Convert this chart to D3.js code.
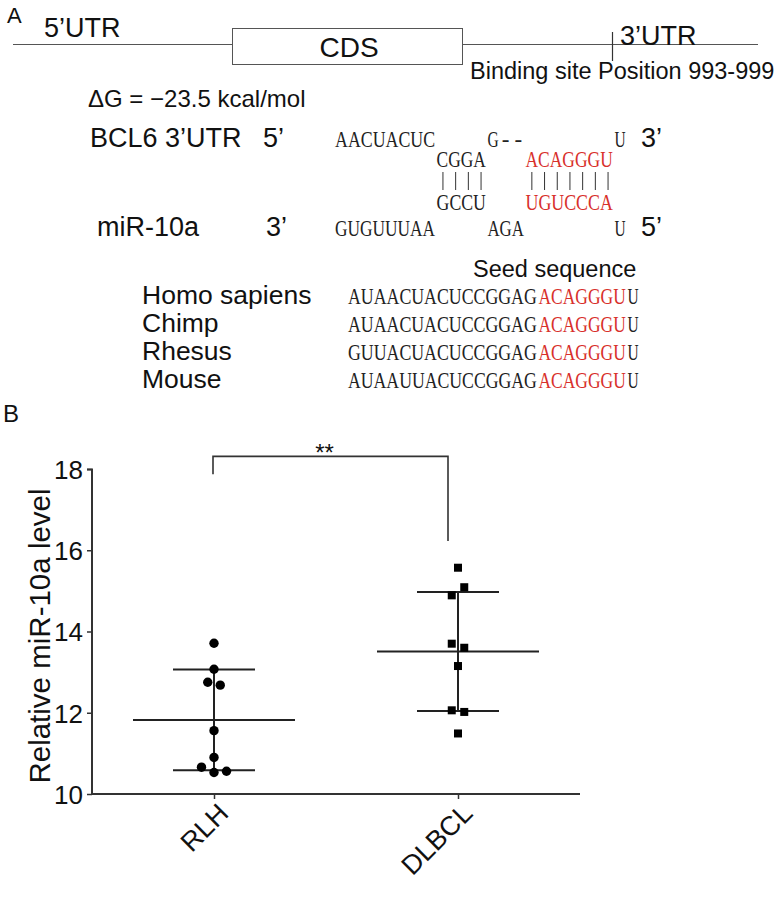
<!DOCTYPE html>
<html>
<head>
<meta charset="utf-8">
<script src="https://cdn.jsdelivr.net/npm/d3@7"></script>
<style>
  html, body { margin: 0; padding: 0; background: #fff; }
  svg { display: block; }
  text { font-family: "Liberation Sans", Arial, sans-serif; fill: #111; }
  .seq { font-family: "Liberation Serif", "Times New Roman", serif; }
</style>
</head>
<body>
<svg id="fig" width="779" height="897"></svg>
<script>
// ---------------- DATA ----------------
const categories = ["RLH", "DLBCL"];
const rlhValues = [13.71, 13.07, 12.75, 12.68, 11.56, 10.90, 10.66, 10.53, 10.56];
const dlbclValues = [15.57, 14.89, 15.09, 13.70, 13.60, 13.15, 12.06, 12.02, 11.49];
const yTicks = [10, 12, 14, 16, 18];
const yLabel = "Relative miR-10a level";
const significance = "**";

const species = ["Homo sapiens", "Chimp", "Rhesus", "Mouse"];
const speciesPrefix = ["AUAACUACUCCGGAG", "AUAACUACUCCGGAG", "GUUACUACUCCGGAG", "AUAAUUACUCCGGAG"];
const seedSeq = "ACAGGGU";
const seedTail = "U";

// binding diagram: [text, column]
const utrRow = [["AACUACUC", 0], ["G", 12], ["-", 13], ["-", 14], ["U", 22]];
const utrPaired = [["CGGA", 8, false], ["ACAGGGU", 15, true]];
const mirPaired = [["GCCU", 8, false], ["UGUCCCA", 15, true]];
const mirRow = [["GUGUUUAA", 0], ["AGA", 12], ["U", 22]];
const pairCols = [8, 9, 10, 11, 15, 16, 17, 18, 19, 20, 21];

// ---------------- DRAW ----------------
const svg = d3.select("#fig");
const RED = "#d8302b";
const INK = "#222";

// ---- Panel A: gene schematic ----
svg.append("text").attr("x", 7).attr("y", 23).attr("font-size", 22).text("A");
svg.append("line").attr("x1", 13).attr("x2", 758).attr("y1", 44.5).attr("y2", 44.5)
  .attr("stroke", "#555").attr("stroke-width", 1);
svg.append("rect").attr("x", 232.5).attr("y", 28.5).attr("width", 230).attr("height", 36)
  .attr("fill", "#fff").attr("stroke", "#555").attr("stroke-width", 1);
svg.append("text").attr("x", 349).attr("y", 57).attr("font-size", 28).attr("text-anchor", "middle").text("CDS");
svg.append("text").attr("x", 44).attr("y", 37).attr("font-size", 27).text("5\u2019UTR");
svg.append("text").attr("x", 620).attr("y", 45).attr("font-size", 27).text("3\u2019UTR");
svg.append("line").attr("x1", 612.5).attr("x2", 612.5).attr("y1", 32).attr("y2", 61)
  .attr("stroke", "#333").attr("stroke-width", 1.2);
svg.append("text").attr("x", 470).attr("y", 79).attr("font-size", 23.5).text("Binding site Position 993-999");
svg.append("text").attr("x", 88).attr("y", 107).attr("font-size", 24).text("\u0394G = \u221223.5 kcal/mol");

// ---- sequence helper: condensed serif text fitted to a column grid ----
const pitch = 12.7;
const col0 = 335;
const colX = c => col0 + c * pitch;
function seqText(x, y, s, color, size) {
  const target = s.length * pitch - 1.5;
  const g = svg.append("g");
  const t = g.append("text").attr("class", "seq")
    .attr("font-size", size || 23)
    .style("fill", color || "#222")
    .text(s);
  const w = t.node().getComputedTextLength();
  if (w > target) {
    g.attr("transform", `translate(${x},${y}) scale(${target / w},1)`);
  } else {
    g.attr("transform", `translate(${x + (target - w) / 2},${y})`);
  }
}
const rowY = [147, 167, 210, 236];
svg.append("text").attr("x", 90).attr("y", rowY[0]).attr("font-size", 27).text("BCL6 3\u2019UTR");
svg.append("text").attr("x", 263).attr("y", rowY[0]).attr("font-size", 27).text("5\u2019");
svg.append("text").attr("x", 641).attr("y", rowY[0]).attr("font-size", 27).text("3\u2019");
utrRow.forEach(([s, c]) => seqText(colX(c), rowY[0], s));
utrPaired.forEach(([s, c, red]) => seqText(colX(c), rowY[1], s, red ? RED : null));
svg.selectAll("line.pair").data(pairCols).enter().append("line").attr("class", "pair")
  .attr("x1", c => colX(c) + pitch / 2).attr("x2", c => colX(c) + pitch / 2)
  .attr("y1", 172).attr("y2", 190).attr("stroke", "#333").attr("stroke-width", 1);
mirPaired.forEach(([s, c, red]) => seqText(colX(c), rowY[2], s, red ? RED : null));
svg.append("text").attr("x", 97).attr("y", rowY[3]).attr("font-size", 27).text("miR-10a");
svg.append("text").attr("x", 266).attr("y", rowY[3]).attr("font-size", 27).text("3\u2019");
svg.append("text").attr("x", 641).attr("y", rowY[3]).attr("font-size", 27).text("5\u2019");
mirRow.forEach(([s, c]) => seqText(colX(c), rowY[3], s));

// ---- conservation ----
svg.append("text").attr("x", 473).attr("y", 277).attr("font-size", 23.5).text("Seed sequence");
const consX = 348;
species.forEach((sp, i) => {
  const y = 304 + i * 28;
  svg.append("text").attr("x", 142).attr("y", y).attr("font-size", 26.5).text(sp);
  const p = speciesPrefix[i];
  seqText(consX, y, p, null, 23);
  seqText(consX + p.length * pitch, y, seedSeq, RED, 23);
  seqText(consX + (p.length + seedSeq.length) * pitch, y, seedTail, null, 23);
});

// ---- Panel B: scatter ----
svg.append("text").attr("x", 3).attr("y", 422).attr("font-size", 24).text("B");

const x = d3.scalePoint().domain(categories).range([92, 580]).padding(0.5);
const y = d3.scaleLinear().domain([10, 18]).range([794, 469]);

const gY = svg.append("g").attr("transform", "translate(92,0)")
  .call(d3.axisLeft(y).tickValues(yTicks).tickSize(5).tickPadding(4).tickFormat(d3.format("d")));
const gX = svg.append("g").attr("transform", "translate(0,794)")
  .call(d3.axisBottom(x).tickSize(5).tickFormat(""));
[gY, gX].forEach(g => {
  g.select(".domain").attr("stroke", "#333").attr("stroke-width", 2);
  g.selectAll(".tick line").attr("stroke", "#333").attr("stroke-width", 1.5);
});
gY.select(".domain").attr("d", "M-5,469.5H0V794");
gX.select(".domain").attr("d", "M92,0H580");
gY.selectAll(".tick text").attr("font-size", 26).attr("font-family", "Liberation Sans, Arial, sans-serif")
  .attr("fill", "#111").attr("dy", "0.36em");

// rotated category labels
svg.selectAll("text.cat").data(categories).enter().append("text").attr("class", "cat")
  .attr("transform", d => `translate(${x(d) + 16},815) rotate(-45)`)
  .attr("text-anchor", "end").attr("font-size", 27).text(d => d);

// y label
svg.append("text").attr("transform", "translate(50,636) rotate(-90)")
  .attr("text-anchor", "middle").attr("font-size", 29.5).text(yLabel);

// beeswarm-style row layout
function layout(vals, thr) {
  const rows = [];
  vals.forEach((v, i) => {
    const last = rows[rows.length - 1];
    if (last && Math.abs(v - vals[last[0]]) < thr) last.push(i); else rows.push([i]);
  });
  const off = new Array(vals.length).fill(0);
  rows.forEach(r => r.forEach((idx, k) => { off[idx] = (k - (r.length - 1) / 2); }));
  return vals.map((v, i) => ({ v, o: off[i] }));
}
const spread = 12.5;
const groups = [
  { cat: "RLH", vals: rlhValues, shape: "circle" },
  { cat: "DLBCL", vals: dlbclValues, shape: "square" }
];
groups.forEach(gp => {
  const cx = x(gp.cat);
  const m = d3.mean(gp.vals), sd = d3.deviation(gp.vals);
  const g = svg.append("g");
  g.append("line").attr("x1", cx - 81).attr("x2", cx + 81).attr("y1", y(m)).attr("y2", y(m))
    .attr("stroke", INK).attr("stroke-width", 2);
  [m - sd, m + sd].forEach(v => g.append("line").attr("x1", cx - 41).attr("x2", cx + 41)
    .attr("y1", y(v)).attr("y2", y(v)).attr("stroke", INK).attr("stroke-width", 2));
  g.append("line").attr("x1", cx).attr("x2", cx).attr("y1", y(m + sd)).attr("y2", y(m - sd))
    .attr("stroke", INK).attr("stroke-width", 2);
  const pts = layout(gp.vals, 0.22);
  if (gp.shape === "circle") {
    g.selectAll("circle").data(pts).enter().append("circle")
      .attr("cx", d => cx + d.o * spread).attr("cy", d => y(d.v)).attr("r", 4.7).attr("fill", "#000");
  } else {
    g.selectAll("rect").data(pts).enter().append("rect")
      .attr("x", d => cx + d.o * spread - 4).attr("y", d => y(d.v) - 4)
      .attr("width", 8).attr("height", 8).attr("fill", "#000");
  }
});

// significance bracket
const bx1 = x("RLH") - 1, bx2 = x("DLBCL") - 10;
const bTop = y(18.31);
svg.append("path")
  .attr("d", `M${bx1},${y(17.87)}V${bTop}H${bx2}V${y(16.23)}`)
  .attr("fill", "none").attr("stroke", "#333").attr("stroke-width", 1.6);
svg.append("text").attr("x", (bx1 + bx2) / 2 - 6).attr("y", 461).attr("font-size", 24)
  .attr("text-anchor", "middle").text(significance);
</script>
</body>
</html>
